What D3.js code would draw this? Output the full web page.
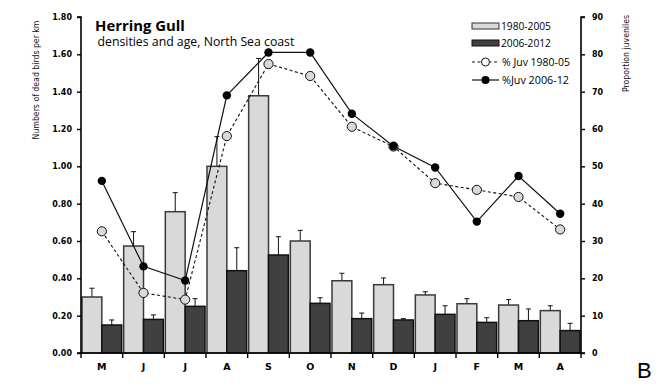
<!DOCTYPE html>
<html><head><meta charset="utf-8">
<script src="https://cdn.jsdelivr.net/npm/d3@7"></script>
<style>body{margin:0;background:#fff}svg{display:block}</style>
</head><body>
<script>
const months = ["M","J","J","A","S","O","N","D","J","F","M","A"];
const dens8005 = [0.30,0.573,0.757,1.00,1.378,0.60,0.387,0.366,0.311,0.264,0.257,0.227];
const err8005  = [0.347,0.65,0.859,1.159,1.578,0.657,0.427,0.402,0.328,0.291,0.286,0.253];
const dens0612 = [0.15,0.18,0.25,0.441,0.525,0.266,0.184,0.177,0.207,0.164,0.173,0.12];
const err0612  = [0.177,0.204,0.291,0.564,0.623,0.296,0.214,0.184,0.253,0.189,0.236,0.159];
const juv8005  = [32.6,16.1,14.3,58.1,77.4,74.2,60.6,55.3,45.5,43.7,41.8,33.1];
const juv0612  = [46.1,23.2,19.4,69.0,80.5,80.5,64.1,55.4,49.7,35.2,47.4,37.3];
const leftTicks = [0,0.2,0.4,0.6,0.8,1.0,1.2,1.4,1.6,1.8];
const rightTicks = [0,10,20,30,40,50,60,70,80,90];
const seriesNames = ["1980-2005","2006-2012","% Juv 1980-05","%Juv 2006-12"];

const W=659,H=387;
const svg=d3.select("body").append("svg").attr("width",W).attr("height",H);
const x0=81,x1=581,yTop=17,yBot=353;
const idx=d3.range(months.length);
const x=d3.scaleBand().domain(idx).range([x0,x1]).paddingInner(0).paddingOuter(0);
const xs=d3.scaleBand().domain([0,1]).range([0,x.bandwidth()]).paddingInner(0).paddingOuter(0.05);
const yL=d3.scaleLinear().domain([0,1.8]).range([yBot,yTop]);
const yR=d3.scaleLinear().domain([0,90]).range([yBot,yTop]);
const tickFont="'DejaVu Sans', sans-serif";
const tf="'Open Sans', Lato, sans-serif";
const nf="'Liberation Sans Narrow', 'DejaVu Sans Condensed', 'Open Sans', sans-serif";
function fit(sel,target){ const w=sel.node().getComputedTextLength(); const fs=parseFloat(sel.attr("font-size")); if(w>0) sel.attr("font-size",(fs*target/w).toFixed(2)+"px"); return sel; }

// bars
const g=svg.append("g");
const bars=[{v:dens8005,e:err8005,fill:"#d9d9d9",stroke:"#3a3a3a"},{v:dens0612,e:err0612,fill:"#404040",stroke:"#111"}];
bars.forEach((b,k)=>{
  idx.forEach(i=>{
    const bx=x(i)+xs(k), bw=xs.bandwidth();
    const cx=bx+bw/2;
    g.append("line").attr("x1",cx).attr("x2",cx).attr("y1",yL(b.v[i])).attr("y2",yL(b.e[i])).attr("stroke","#111").attr("stroke-width",1);
    g.append("line").attr("x1",cx-2.5).attr("x2",cx+2.5).attr("y1",yL(b.e[i])).attr("y2",yL(b.e[i])).attr("stroke","#111").attr("stroke-width",1);
    g.append("rect").attr("x",bx).attr("y",yL(b.v[i])).attr("width",bw).attr("height",yBot-yL(b.v[i]))
      .attr("fill",b.fill).attr("stroke",b.stroke).attr("stroke-width",1.5);
  });
});

// lines
const cxp=i=>x(i)+x.bandwidth()/2;
const line=d3.line().x((d,i)=>cxp(i)).y(d=>yR(d));
svg.append("path").attr("d",line(juv8005)).attr("fill","none").attr("stroke","#111").attr("stroke-width",1.1).attr("stroke-dasharray","3,2.5");
svg.append("path").attr("d",line(juv0612)).attr("fill","none").attr("stroke","#111").attr("stroke-width",1.2);
svg.selectAll("circle.o").data(juv8005).enter().append("circle").attr("cx",(d,i)=>cxp(i)).attr("cy",d=>yR(d)).attr("r",4.6)
  .attr("fill","#d9d9d9").attr("stroke","#111").attr("stroke-width",1);
svg.selectAll("circle.f").data(juv0612).enter().append("circle").attr("cx",(d,i)=>cxp(i)).attr("cy",d=>yR(d)).attr("r",4.2)
  .attr("fill","#000");

// axes
const axL=svg.append("g").attr("transform",`translate(${x0},0)`).call(d3.axisLeft(yL).tickValues(leftTicks).tickFormat(d3.format(".2f")).tickSize(4).tickPadding(5));
const axR=svg.append("g").attr("transform",`translate(${x1},0)`).call(d3.axisRight(yR).tickValues(rightTicks).tickSize(4).tickPadding(7));
const axB=svg.append("g").attr("transform",`translate(0,${yBot})`).call(d3.axisBottom(x).tickValues([]).tickSizeOuter(0));
[axL,axR].forEach(a=>{
  a.select(".domain").attr("stroke","#000").attr("stroke-width",1.6).attr("d",`M${a===axL?-4:4},${yTop}H0V${yBot}H${a===axL?-4:4}`);
  a.selectAll(".tick line").attr("stroke","#000").attr("stroke-width",1.4);
  a.selectAll("text").attr("font-family",tickFont).attr("font-weight","bold").attr("font-size","8px").attr("fill","#000");
});
axB.select(".domain").attr("stroke","#000").attr("stroke-width",1.6).attr("d",`M${x0},0H${x1}`);
const bounds=d3.range(months.length+1).map(i=>i===months.length?x1:x(i));
axB.selectAll("line.bt").data(bounds).enter().append("line").attr("x1",d=>d).attr("x2",d=>d).attr("y1",0).attr("y2",5).attr("stroke","#000").attr("stroke-width",1.4);
axB.selectAll("text.ml").data(months).enter().append("text").attr("x",(d,i)=>cxp(i)).attr("y",16.5).attr("text-anchor","middle")
  .attr("fill","#000").attr("font-family",tickFont).attr("font-weight","bold").attr("font-size","9.5px").text(d=>d);

// titles
fit(svg.append("text").attr("x",95).attr("y",30.8).attr("font-family",tf).attr("font-weight","bold").attr("font-size","15px").text("Herring Gull"),90);
fit(svg.append("text").attr("x",97.5).attr("y",46.2).attr("font-family",tf).attr("font-size","11px").text("densities and age, North Sea coast"),197);
fit(svg.append("text").attr("transform","translate(39,80) rotate(-90)").attr("text-anchor","middle").attr("font-family",nf).attr("font-size","10px").attr("fill","#111").text("Numbers of dead birds per km"),119);
fit(svg.append("text").attr("transform","translate(629,53.5) rotate(-90)").attr("text-anchor","middle").attr("font-family",nf).attr("font-size","10px").attr("fill","#111").text("Proportion juveniles"),77);
svg.append("text").attr("x",637).attr("y",378).attr("font-family","'Liberation Sans', Arial, sans-serif").attr("font-size","22px").text("B");

// legend
const lg=svg.append("g");
const ly=[26,43,62,80];
lg.append("rect").attr("x",472).attr("y",ly[0]-3).attr("width",27).attr("height",6).attr("fill","#d9d9d9").attr("stroke","#333").attr("stroke-width",1);
lg.append("rect").attr("x",472).attr("y",ly[1]-3).attr("width",27).attr("height",6).attr("fill","#404040").attr("stroke","#111").attr("stroke-width",1);
lg.append("line").attr("x1",472).attr("x2",499).attr("y1",ly[2]).attr("y2",ly[2]).attr("stroke","#111").attr("stroke-dasharray","3,2.5");
lg.append("circle").attr("cx",485.5).attr("cy",ly[2]).attr("r",4).attr("fill","#fff").attr("stroke","#111");
lg.append("line").attr("x1",472).attr("x2",499).attr("y1",ly[3]).attr("y2",ly[3]).attr("stroke","#111").attr("stroke-width",1.2);
lg.append("circle").attr("cx",485.5).attr("cy",ly[3]).attr("r",4).attr("fill","#000");
const lw=[50,50,68,67];
seriesNames.forEach((s,i)=>{
  fit(lg.append("text").attr("x",i<2?501:502).attr("y",ly[i]+3.8).attr("font-family",tf).attr("font-size","10px").text(s),lw[i]);
});
</script>
</body></html>
